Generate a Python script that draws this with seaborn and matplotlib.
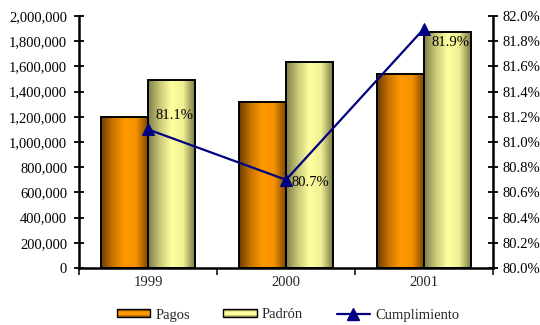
import numpy as np
import pandas as pd
import matplotlib
matplotlib.use("Agg")
import matplotlib.pyplot as plt
from matplotlib.colors import LinearSegmentedColormap
from matplotlib.patches import Rectangle
from matplotlib.lines import Line2D
from matplotlib.legend_handler import HandlerBase
from matplotlib.ticker import FuncFormatter, FixedLocator
import seaborn as sns

# --- data ---
years = ["1999", "2000", "2001"]
pagos = [1200000, 1320000, 1540000]
padron = [1490000, 1635000, 1875000]
cumplimiento = [81.1, 80.7, 81.9]
cumpl_labels = ["81.1%", "80.7%", "81.9%"]
series = ["Pagos", "Padrón"]

FS = 10.5

sns.set_theme(style="white")
plt.rcParams["font.family"] = ["Liberation Serif", "DejaVu Serif"]
plt.rcParams["font.size"] = FS

df = pd.DataFrame({
    "year": years * 2,
    "value": pagos + padron,
    "serie": [series[0]] * 3 + [series[1]] * 3,
})

base_colors = {"Pagos": "#ff9900", "Padrón": "#ffff99"}
cmaps = {
    "Pagos": LinearSegmentedColormap.from_list(
        "pagos", ["#6a3c00", "#c87400", "#ff9900", "#f59200", "#7a4800"]),
    "Padrón": LinearSegmentedColormap.from_list(
        "padron", ["#7c7c48", "#c8c878", "#ffffa0", "#f0f094", "#7a7a46"]),
}
key_cmaps = {
    "Pagos": LinearSegmentedColormap.from_list(
        "pagos_key", ["#6a3c00", "#ff9900", "#ff9900", "#6a3c00"]),
    "Padrón": LinearSegmentedColormap.from_list(
        "padron_key", ["#6e6e40", "#ffffa0", "#ffffa0", "#6e6e40"]),
}

fig = plt.figure(figsize=(5.4, 3.25), dpi=100)
ax = fig.add_axes([79 / 540, 1 - 268 / 325, (493 - 79) / 540, (268 - 16) / 325])

sns.barplot(data=df, x="year", y="value", hue="serie", order=years,
            hue_order=series, palette=base_colors, saturation=1, width=0.68,
            edgecolor="black", linewidth=1.4, legend=False, ax=ax, zorder=2)

# cylindrical shading inside each bar (patches come grouped by hue level)
grad = np.linspace(0, 1, 256).reshape(1, -1)
bars = [p for p in ax.patches if p.get_height() > 0]
for idx, patch in enumerate(bars):
    serie = series[idx // len(years)]
    x0, w, h = patch.get_x(), patch.get_width(), patch.get_height()
    im = ax.imshow(grad, cmap=cmaps[serie], aspect="auto",
                   extent=(x0, x0 + w, 0, h), zorder=1.5, interpolation="bilinear")
    im.set_clip_path(patch)
    patch.set_facecolor("none")

ax.set_xlim(-0.5, 2.5)
ax.set_ylim(0, 2000000)
ax.set_xlabel("")
ax.set_ylabel("")
ax.yaxis.set_major_locator(FixedLocator(np.arange(0, 2000001, 200000)))
ax.yaxis.set_major_formatter(FuncFormatter(lambda v, p: f"{int(v):,}"))
ax.tick_params(axis="y", direction="inout", length=7, width=1.3, left=True,
               labelsize=FS, colors="black", pad=5)
ax.tick_params(axis="x", which="major", length=0, labelsize=FS, pad=6)
ax.set_xticks([-0.5, 0.5, 1.5, 2.5], minor=True)
ax.tick_params(axis="x", which="minor", direction="out", length=5, width=1.3,
               bottom=True)
for side in ["left", "bottom"]:
    ax.spines[side].set_color("black")
    ax.spines[side].set_linewidth(1.8)
ax.spines["top"].set_visible(False)
ax.spines["right"].set_visible(False)

ax2 = ax.twinx()
sns.lineplot(x=np.arange(len(years)), y=cumplimiento, ax=ax2, color="#000080",
             linewidth=1.6, marker="^", markersize=8, markeredgecolor="#000080",
             zorder=5)
ax2.set_ylim(80, 82)
ax2.set_xlim(-0.5, 2.5)
ax2.yaxis.set_major_locator(FixedLocator(np.arange(80, 82.01, 0.2)))
ax2.yaxis.set_major_formatter(FuncFormatter(lambda v, p: f"{v:.1f}%"))
ax2.tick_params(axis="y", direction="inout", length=7, width=1.3, right=True,
                labelsize=FS, colors="black", pad=3.5)
for side in ["left", "top", "bottom"]:
    ax2.spines[side].set_visible(False)
ax2.spines["right"].set_color("black")
ax2.spines["right"].set_linewidth(1.8)
ax2.set_ylabel("")

offsets = [(7, 14), (5, -3), (8, -14)]
for i, (val, lab) in enumerate(zip(cumplimiento, cumpl_labels)):
    ax2.annotate(lab, (i, val), xytext=offsets[i], textcoords="offset pixels",
                 ha="left", va="center", fontsize=FS, color="black")


class GradientBoxHandler(HandlerBase):
    """Legend key drawn as a small tube shaded from top to bottom."""

    def __init__(self, cmap, **kw):
        super().__init__(**kw)
        self.cmap = cmap

    def create_artists(self, legend, orig_handle, xdescent, ydescent,
                       width, height, fontsize, trans):
        n = 12
        artists = []
        hb = height
        y0 = -ydescent
        for k in range(n):
            r = Rectangle((-xdescent, y0 + hb * k / n), width, hb / n + 0.2,
                          facecolor=self.cmap((k + 0.5) / n), edgecolor="none",
                          transform=trans)
            artists.append(r)
        artists.append(Rectangle((-xdescent, y0), width, hb, facecolor="none",
                                 edgecolor="black", linewidth=1.0, transform=trans))
        return artists


h_pagos = Rectangle((0, 0), 1, 1)
h_padron = Rectangle((0, 0), 1, 1)
h_line = Line2D([], [], color="#000080", linewidth=1.6, marker="^", markersize=8)
fig.legend([h_pagos, h_padron, h_line], ["Pagos", "Padrón", "Cumplimiento"],
           loc="center", bbox_to_anchor=(288 / 540, 1 - 315 / 325), ncol=3,
           frameon=False, fontsize=FS, handlelength=2.3, handleheight=0.45,
           columnspacing=2.3, handletextpad=0.35,
           handler_map={h_pagos: GradientBoxHandler(key_cmaps["Pagos"]),
                        h_padron: GradientBoxHandler(key_cmaps["Padrón"])})

fig.savefig("out.png", dpi=100)
